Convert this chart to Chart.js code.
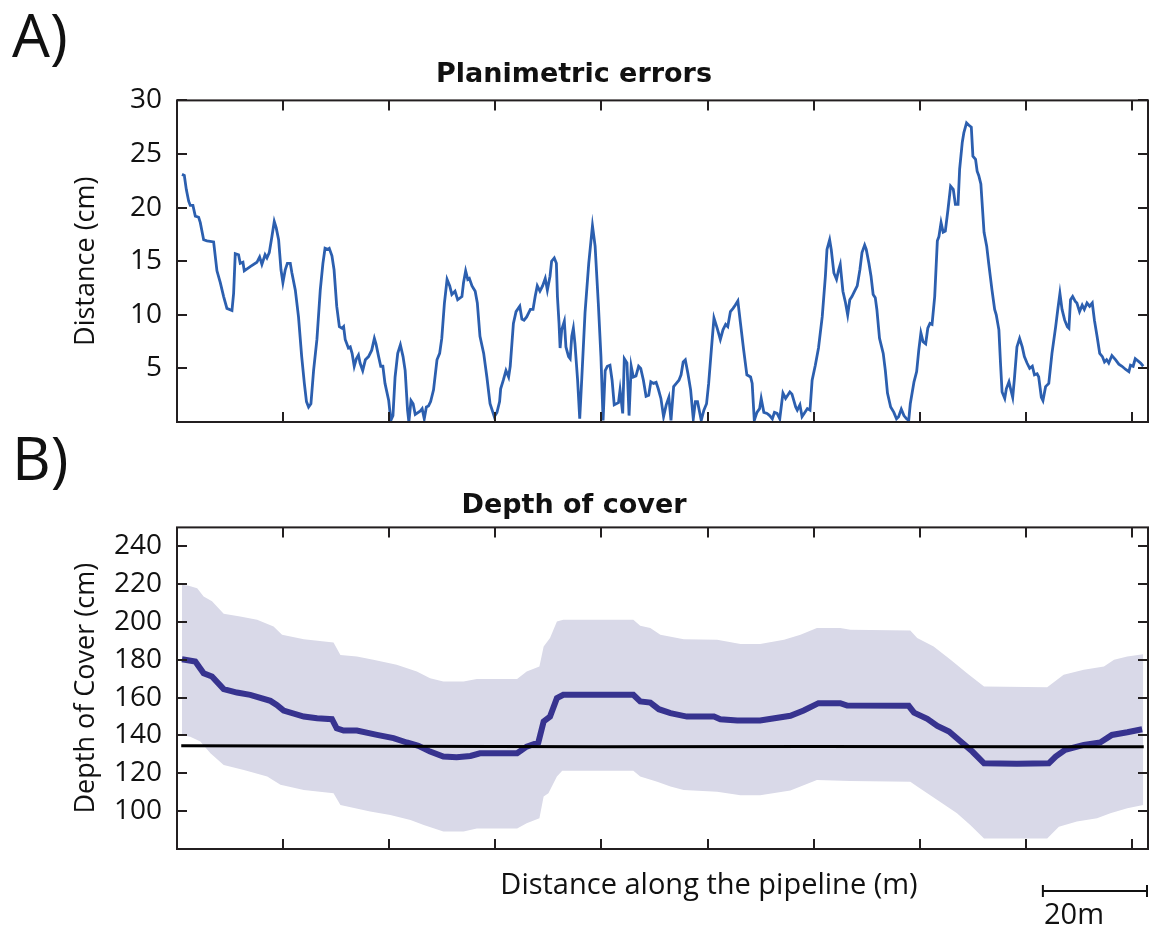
<!DOCTYPE html>
<html lang="en">
<head>
<meta charset="UTF-8">
<title>Planimetric errors and depth of cover</title>
<script src="https://cdn.jsdelivr.net/npm/chart.js@4.4.0/dist/chart.umd.min.js"></script>
<style>
  body { margin: 0; background: #fff; width: 1150px; height: 931px; position: relative; overflow: hidden; font-family: "Open Sans", sans-serif; }
  canvas { position: absolute; left: 0; }
  #chartA { top: 0; }
  #chartB { top: 440px; }
  .panel { position: absolute; left: 12px; font-size: 60px; line-height: 1; color: #111; }
</style>
</head>
<body>
<div class="panel" style="top:4px">A)</div>
<div class="panel" style="top:427px">B)</div>
<canvas id="chartA" width="1150" height="440"></canvas>
<canvas id="chartB" width="1150" height="491"></canvas>

<script>
// distance along the pipeline (m), shared x range
const xMax = 183;
const xTicks = [20, 40, 60, 80, 100, 120, 140, 160, 180];
const yTicksA = [5, 10, 15, 20, 25, 30];
const yTicksB = [100, 120, 140, 160, 180, 200, 220, 240];

// A) planimetric error (cm)
const planDist = [0.94, 1.38, 1.75, 2.2, 2.5, 3.0, 3.45, 4.08, 4.39, 5.02, 5.65, 6.9, 7.53, 8.16, 8.79, 9.41, 10.36, 10.67, 10.98, 11.6,
  11.92, 12.43, 12.68, 13.8, 15.06, 15.57, 16.0, 16.6, 16.95, 17.39, 17.89, 18.33, 18.7, 19.15, 19.6, 19.96, 20.4, 20.8, 21.35, 21.66,
  22.3, 22.9, 23.5, 24.0, 24.4, 24.8, 25.24, 25.74, 26.37, 27.0, 27.5, 27.9, 28.4, 28.7, 29.2, 29.6, 30.1, 30.6, 31.1, 31.4,
  31.7, 32.3, 32.65, 33.0, 33.4, 33.8, 34.2, 34.5, 35.0, 35.5, 36.1, 36.7, 37.2, 37.5, 38.0, 38.4, 38.8, 39.2, 39.9, 40.3,
  40.7, 41.1, 41.6, 42.1, 42.6, 43.0, 43.45, 43.7, 44.1, 44.5, 44.9, 45.8, 46.2, 46.6, 47.0, 47.4, 47.8, 48.35, 49.0, 49.5,
  49.9, 50.4, 50.9, 51.4, 51.8, 52.4, 52.9, 53.7, 54.0, 54.4, 54.8, 55.1, 55.6, 56.2, 56.6, 57.1, 57.8, 58.4, 59.0, 59.8,
  60.3, 60.8, 61.0, 61.5, 62.0, 62.5, 62.8, 63.4, 63.9, 64.6, 65.0, 65.4, 65.9, 66.6, 67.1, 67.5, 67.9, 68.4, 68.9, 69.4,
  69.8, 70.3, 70.6, 71.1, 71.5, 71.7, 72.0, 72.2, 72.5, 73.0, 73.3, 73.8, 74.1, 74.4, 74.7, 75.0, 75.5, 75.9, 76.3, 76.9,
  77.6, 78.3, 78.8, 79.4, 79.9, 80.3, 80.7, 81.1, 81.6, 82.0, 82.4, 83.2, 83.5, 84.0, 84.3, 84.8, 85.2, 85.6, 86.0, 86.5,
  87.0, 87.4, 87.9, 88.4, 88.9, 89.3, 89.8, 90.3, 90.7, 91.2, 91.7, 92.2, 92.7, 93.1, 93.6, 94.1, 94.6, 95.0, 95.4, 95.8,
  96.3, 96.8, 97.3, 97.7, 98.1, 98.5, 98.8, 99.3, 99.8, 100.2, 100.7, 101.2, 101.8, 102.4, 102.9, 103.4, 103.8, 104.3, 104.8, 105.2,
  105.7, 106.2, 106.8, 107.4, 108.1, 108.4, 108.8, 109.3, 109.8, 110.1, 110.6, 111.2, 111.7, 112.2, 112.6, 113.1, 113.6, 114.2, 114.7, 115.1,
  115.5, 115.9, 116.6, 116.9, 117.4, 117.8, 118.2, 118.8, 119.3, 119.7, 120.3, 120.9, 121.6, 122.2, 122.5, 123.0, 123.3, 123.8, 124.3, 124.7,
  125.0, 125.5, 126.0, 126.4, 126.8, 127.2, 127.7, 128.2, 128.7, 129.1, 129.6, 129.9, 130.4, 130.8, 131.2, 131.6, 131.9, 132.4, 133.1, 133.5,
  133.9, 134.5, 135.1, 135.6, 136.0, 136.5, 137.0, 137.5, 137.9, 138.2, 138.9, 139.4, 139.8, 140.2, 140.6, 141.1, 141.5, 141.9, 142.3, 142.8,
  143.3, 143.6, 144.0, 144.4, 144.8, 145.3, 145.8, 146.3, 146.7, 147.2, 147.5, 148.0, 148.3, 148.8, 149.2, 149.7, 150.0, 150.5, 150.8, 151.1,
  151.5, 152.1, 152.6, 153.0, 153.6, 154.1, 154.4, 154.9, 155.2, 155.5, 156.0, 156.3, 156.8, 157.1, 157.5, 157.8, 158.3, 158.8, 159.3, 159.7,
  160.2, 160.7, 161.2, 161.6, 162.1, 162.4, 162.9, 163.2, 163.7, 164.3, 164.9, 165.6, 166.0, 166.4, 166.8, 167.3, 167.8, 168.1, 168.4, 168.8,
  169.3, 169.6, 170.1, 170.6, 171.0, 171.5, 172.0, 172.5, 172.9, 173.4, 173.9, 174.4, 174.8, 175.2, 175.6, 176.2, 176.9, 177.5, 178.1, 178.8,
  179.4, 179.7, 180.2, 180.6, 181.1, 181.6, 182.1];
const planErr = [23.1, 23.0, 21.7, 20.6, 20.2, 20.2, 19.2, 19.1, 18.6, 17.0, 16.9, 16.8, 14.1, 13.0, 11.7, 10.6, 10.4, 12.0, 15.7, 15.6,
  14.8, 14.9, 14.1, 14.5, 14.9, 15.4, 14.7, 15.6, 15.3, 15.8, 17.3, 18.7, 18.1, 17.0, 14.2, 13.0, 14.2, 14.8, 14.8, 13.9,
  12.3, 9.8, 6.1, 3.6, 1.9, 1.4, 1.7, 4.8, 7.7, 12.3, 14.8, 16.2, 16.1, 16.2, 15.5, 14.2, 10.8, 8.9, 8.75, 8.9,
  7.7, 6.9, 7.0, 6.4, 5.2, 5.9, 6.25, 5.5, 4.8, 5.8, 6.1, 6.7, 7.8, 7.3, 6.1, 5.2, 5.2, 3.6, 2.0, 0.15,
  0.6, 4.2, 6.4, 7.2, 6.1, 4.8, 1.1, 0, 2.0, 1.7, 0.7, 1.0, 1.25, 0.3, 1.4, 1.5, 1.9, 3.0, 5.8, 6.4,
  7.8, 11.1, 13.3, 12.7, 11.9, 12.2, 11.4, 11.7, 13.0, 14.1, 13.3, 13.4, 12.7, 12.2, 11.1, 8.0, 6.4, 4.2, 1.7, 0.5,
  0.9, 1.9, 3.1, 3.9, 4.8, 4.2, 5.2, 9.2, 10.3, 10.8, 9.6, 9.5, 9.8, 10.5, 10.5, 11.7, 12.7, 12.2, 12.7, 13.4,
  12.3, 13.6, 15.0, 15.3, 14.8, 11.7, 9.2, 6.9, 8.6, 9.4, 7.0, 6.1, 5.9, 8.0, 8.75, 7.3, 3.9, 0.3, 4.2, 10.2,
  14.8, 18.3, 16.4, 11.1, 6.1, 0.15, 4.8, 5.2, 5.3, 3.9, 1.6, 1.8, 3.0, 0.8, 5.9, 5.5, 0.6, 5.2, 4.2, 4.3,
  5.2, 5.0, 3.9, 2.4, 2.5, 3.75, 3.6, 3.7, 3.1, 2.2, 0.5, 1.6, 2.3, 0.15, 3.3, 3.6, 3.9, 4.4, 5.6, 5.8,
  4.5, 3.0, 0.3, 1.9, 1.9, 0.9, 0.15, 1.1, 1.7, 3.6, 6.7, 9.7, 8.75, 7.7, 8.6, 9.1, 8.9, 10.3, 10.6, 10.9,
  11.3, 9.2, 6.7, 4.4, 4.2, 3.6, 0.15, 0.9, 1.25, 2.2, 0.9, 0.8, 0.6, 0.3, 0.9, 0.8, 0.3, 2.7, 2.2, 2.5,
  2.8, 2.6, 1.4, 1.1, 1.6, 0.5, 0.8, 1.25, 1.1, 3.9, 5.3, 6.9, 9.8, 13.6, 16.1, 17.0, 16.1, 13.9, 13.3, 14.2,
  14.7, 12.2, 11.1, 10.0, 11.4, 11.7, 12.2, 12.7, 14.2, 15.8, 16.5, 16.1, 14.8, 13.6, 11.9, 11.6, 10.5, 7.8, 6.4, 4.8,
  2.7, 1.4, 0.9, 0.3, 0.5, 1.2, 0.6, 0.3, 0.15, 1.7, 3.75, 4.7, 6.7, 8.3, 7.5, 7.3, 8.75, 9.2, 9.1, 11.7,
  16.9, 17.3, 18.6, 17.7, 17.8, 19.8, 22.0, 21.7, 20.3, 20.3, 23.6, 26.1, 27.0, 27.9, 27.7, 27.5, 24.8, 24.5, 23.4, 23.0,
  22.2, 17.7, 16.4, 14.7, 12.3, 10.5, 10.0, 8.6, 5.5, 2.8, 2.2, 3.1, 3.75, 3.1, 2.3, 3.9, 7.0, 7.8, 7.0, 6.1,
  5.5, 5.0, 5.2, 4.4, 4.5, 4.2, 2.3, 2.0, 3.3, 3.6, 6.4, 8.9, 10.5, 12.0, 10.5, 9.5, 8.9, 8.75, 11.4, 11.7,
  11.25, 11.1, 10.3, 10.9, 10.5, 11.1, 10.8, 11.1, 9.5, 8.0, 6.4, 6.1, 5.6, 5.8, 5.5, 6.2, 5.8, 5.4, 5.2, 4.9,
  4.7, 5.3, 5.2, 5.9, 5.7, 5.5, 5.2];

// B) depth of cover (cm): mean estimate, upper and lower bounds, reference line
const meanDist = [0.94, 3.45, 5.02, 6.59, 8.79, 11.3, 13.8, 17.6, 18.8, 20.1, 23.9, 26.4, 29.2, 30.1, 31.4, 33.9, 37.7, 40.8, 43.3, 45.5,
  47.7, 50.2, 52.7, 55.3, 57.1, 64.1, 65.9, 68.1, 69.1, 70.3, 71.6, 72.8, 86.0, 87.3, 89.2, 90.8, 93.0, 96.1, 101.2, 102.4,
  105.6, 109.9, 115.6, 118.1, 120.9, 125.0, 126.3, 137.9, 138.9, 141.4, 143.3, 145.5, 147.7, 149.9, 152.1, 158.3, 164.3, 165.6, 167.4, 170.9,
  174.0, 176.2, 179.1, 181.9];
const meanDepth = [180.3, 179.1, 172.9, 171.2, 164.5, 162.7, 161.5, 158.3, 156.2, 153.2, 150.0, 149.1, 148.6, 143.8, 142.6, 142.6, 140.3, 138.6, 136.3, 134.5,
  131.5, 128.9, 128.5, 129.2, 130.6, 130.6, 134.1, 136.3, 147.4, 150.0, 159.7, 161.5, 161.5, 158.0, 157.4, 153.9, 151.8, 150.0, 150.0, 148.6,
  147.9, 147.9, 150.4, 153.2, 157.1, 157.1, 155.8, 155.7, 152.1, 148.8, 145.1, 142.1, 136.8, 131.5, 125.3, 125.0, 125.3, 128.9, 132.4, 135.0,
  136.3, 140.3, 141.7, 143.3];

const upperDist = [0.94, 2.2, 3.8, 5.02, 6.6, 8.8, 11.9, 15.1, 18.2, 19.8, 23.9, 29.5, 30.8, 33.9, 37.0, 41.4, 45.2, 47.7, 50.2, 54.0,
  56.5, 64.1, 65.9, 68.3, 69.1, 70.3, 71.6, 72.8, 86.0, 87.3, 89.2, 91.1, 95.5, 101.8, 106.2, 109.9, 114.4, 117.5, 120.6, 125.0,
  126.9, 138.2, 139.5, 142.6, 145.8, 148.9, 152.1, 164.0, 167.1, 170.9, 174.7, 176.6, 179.1, 182.1];
const upperDepth = [219.7, 219.2, 217.9, 213.5, 210.9, 204.3, 202.9, 201.2, 197.6, 193.2, 190.9, 189.2, 182.6, 181.8, 180.0, 177.4, 173.8, 170.3, 168.5, 168.5,
  169.9, 169.9, 173.8, 176.5, 187.1, 191.5, 200.3, 201.2, 201.2, 198.0, 196.8, 193.2, 190.9, 190.6, 188.3, 188.3, 190.6, 193.2, 196.8, 196.8,
  195.9, 195.5, 191.5, 187.1, 180.0, 172.9, 165.9, 165.5, 172.1, 174.7, 176.5, 180.0, 181.8, 183.0];

const lowerDist = [0.94, 2.5, 4.4, 6.3, 8.8, 12.6, 17.0, 19.5, 23.9, 29.5, 30.8, 36.4, 40.2, 44.0, 46.5, 50.2, 54.0, 56.5, 64.1, 65.9,
  68.3, 69.1, 70.0, 71.6, 72.6, 86.0, 87.3, 90.5, 93.0, 95.5, 101.8, 106.2, 109.9, 115.6, 120.6, 126.9, 138.2, 139.5, 143.3, 147.0,
  149.5, 152.1, 164.0, 166.2, 169.6, 173.4, 175.9, 179.1, 182.1];
const lowerDepth = [140.3, 139.4, 136.8, 130.6, 124.4, 121.8, 118.3, 113.9, 111.2, 109.5, 103.3, 99.8, 98.0, 95.3, 92.7, 89.2, 89.2, 90.9, 90.9, 93.6,
  96.2, 107.7, 109.5, 118.3, 121.4, 121.4, 118.3, 115.6, 113.0, 111.2, 110.3, 108.4, 108.4, 110.9, 116.5, 116.0, 115.6, 113.0, 105.9, 98.9,
  92.7, 85.6, 85.6, 91.8, 94.5, 96.2, 98.9, 101.5, 103.3];

const refDist = [0.8, 40, 80, 120, 160, 182.2];
const refDepth = [134.6, 134.3, 134.1, 134.2, 134.0, 134.0];

const pts = (xs, ys) => xs.map((x, i) => ({ x: x, y: ys[i] }));

const tickFont = { family: 'Open Sans', size: 28 };
const axisTitleFont = { family: 'Open Sans', size: 27 };
const titleFont = { family: 'DejaVu Sans', size: 27, weight: 'bold' };

// box round the plot with inward tick marks on all four sides
const framePlugin = {
  id: 'frame',
  afterDatasetsDraw(chart, args, opts) {
    const { ctx, chartArea: a, scales: { x, y } } = chart;
    ctx.save();
    ctx.strokeStyle = '#231f20';
    ctx.lineWidth = 2;
    ctx.strokeRect(a.left, a.top, a.right - a.left, a.bottom - a.top);
    ctx.beginPath();
    xTicks.forEach(v => {
      const px = Math.round(x.getPixelForValue(v));
      ctx.moveTo(px, a.bottom); ctx.lineTo(px, a.bottom - 10);
      ctx.moveTo(px, a.top); ctx.lineTo(px, a.top + 10);
    });
    opts.yTicks.forEach(v => {
      const py = Math.round(y.getPixelForValue(v));
      ctx.moveTo(a.left, py); ctx.lineTo(a.left + 10, py);
      ctx.moveTo(a.right, py); ctx.lineTo(a.right - 10, py);
    });
    ctx.stroke();
    ctx.restore();
  }
};

// x axis caption and 20 m scale bar under panel B
const scaleBarPlugin = {
  id: 'scaleBar',
  afterDraw(chart) {
    const { ctx, scales: { x } } = chart;
    const x0 = x.getPixelForValue(xMax - 20);
    const x1 = x.getPixelForValue(xMax);
    const yb = 451;
    ctx.save();
    ctx.strokeStyle = '#111';
    ctx.lineWidth = 2;
    ctx.beginPath();
    ctx.moveTo(x0, yb); ctx.lineTo(x1, yb);
    ctx.moveTo(x0 + 1, yb - 6); ctx.lineTo(x0 + 1, yb + 6);
    ctx.moveTo(x1 - 1, yb - 6); ctx.lineTo(x1 - 1, yb + 6);
    ctx.stroke();
    ctx.fillStyle = '#111';
    ctx.font = '29px "Open Sans"';
    ctx.textAlign = 'center';
    ctx.textBaseline = 'middle';
    ctx.fillText('Distance along the pipeline (m)', 709, 446);
    ctx.fillText('20m', 1074, 476);
    ctx.restore();
  }
};

function yScale(min, max, ticks, title) {
  return {
    min: min,
    max: max,
    afterBuildTicks: s => { s.ticks = ticks.map(v => ({ value: v })); },
    afterFit: s => { s.width = 177; s.paddingTop = 0; s.paddingBottom = 0; },
    grid: { display: false, drawTicks: false },
    border: { display: false },
    ticks: { padding: 15, color: '#111', font: tickFont },
    title: { display: true, text: title, color: '#111', font: axisTitleFont, padding: { top: 70, bottom: 0 } }
  };
}

new Chart(document.getElementById('chartA'), {
  type: 'line',
  data: {
    datasets: [{
      data: pts(planDist, planErr),
      borderColor: '#2c5faf',
      borderWidth: 2.8,
      pointRadius: 0,
      fill: false
    }]
  },
  options: {
    responsive: false,
    animation: false,
    devicePixelRatio: 1,
    layout: { padding: { left: 0, right: 2, top: 0, bottom: 18 } },
    scales: {
      x: { type: 'linear', min: 0, max: xMax, display: false },
      y: yScale(0, 30, yTicksA, 'Distance (cm)')
    },
    plugins: {
      legend: { display: false },
      tooltip: { enabled: false },
      title: { display: true, text: 'Planimetric errors', color: '#111', font: titleFont, padding: { top: 59, bottom: 9 } },
      frame: { yTicks: yTicksA }
    }
  },
  plugins: [framePlugin]
});

new Chart(document.getElementById('chartB'), {
  type: 'line',
  data: {
    datasets: [
      { data: pts(refDist, refDepth), borderColor: '#000', borderWidth: 3, pointRadius: 0, fill: false },
      { data: pts(meanDist, meanDepth), borderColor: '#37338f', borderWidth: 6, pointRadius: 0, fill: false },
      { data: pts(upperDist, upperDepth), borderWidth: 0, borderColor: 'rgba(0,0,0,0)', backgroundColor: '#d9d9e8', pointRadius: 0, fill: '+1' },
      { data: pts(lowerDist, lowerDepth), borderWidth: 0, borderColor: 'rgba(0,0,0,0)', pointRadius: 0, fill: false }
    ]
  },
  options: {
    responsive: false,
    animation: false,
    devicePixelRatio: 1,
    layout: { padding: { left: 0, right: 2, top: 0, bottom: 82 } },
    scales: {
      x: { type: 'linear', min: 0, max: xMax, display: false },
      y: yScale(80, 250, yTicksB, 'Depth of Cover (cm)')
    },
    plugins: {
      legend: { display: false },
      tooltip: { enabled: false },
      filler: { drawTime: 'beforeDatasetsDraw' },
      title: { display: true, text: 'Depth of cover', color: '#111', font: titleFont, padding: { top: 50, bottom: 5 } },
      frame: { yTicks: yTicksB }
    }
  },
  plugins: [framePlugin, scaleBarPlugin]
});
</script>
</body>
</html>
